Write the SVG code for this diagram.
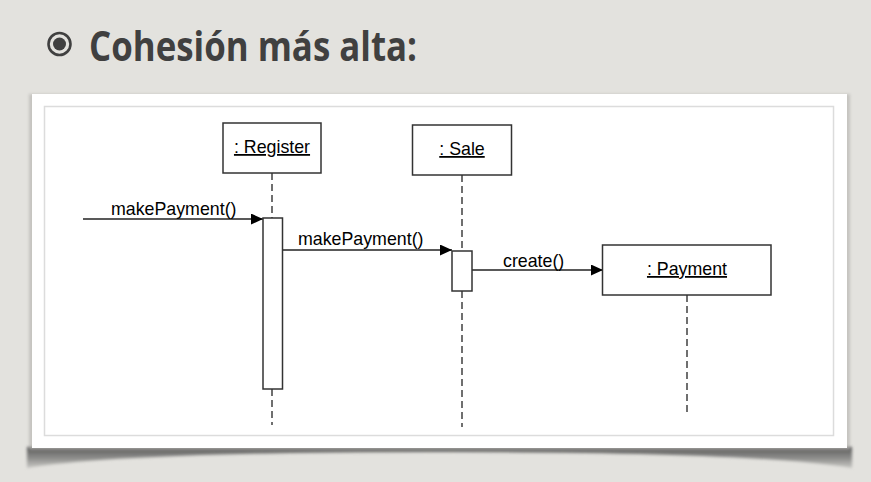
<svg xmlns="http://www.w3.org/2000/svg" width="871" height="482" viewBox="0 0 871 482">
  <defs>
    <style>
      .box { fill: #ffffff; stroke: #333333; stroke-width: 1.5; }
      .life { stroke: #333333; stroke-width: 1.4; stroke-dasharray: 7 4; fill: none; }
      .msg { stroke: #222222; stroke-width: 1.4; fill: none; }
      .lbl { font-family: "Liberation Sans", Arial, sans-serif; font-size: 17.8px; fill: #000000; }
      .name { font-family: "Liberation Sans", Arial, sans-serif; font-size: 17.8px; fill: #000000; text-decoration: underline; text-anchor: middle; }
    </style>
    <marker id="arr" markerWidth="12" markerHeight="11" refX="12" refY="5.5" orient="auto" markerUnits="userSpaceOnUse">
      <path d="M0,0 L12,5.5 L0,11 Z" fill="#000000"/>
    </marker>
    <linearGradient id="shadowGrad" x1="0" y1="0" x2="0" y2="1">
      <stop offset="0" stop-color="#555555" stop-opacity="1"/>
      <stop offset="0.6" stop-color="#8c8c8a" stop-opacity="0.9"/>
      <stop offset="1" stop-color="#b0b0ad" stop-opacity="0.6"/>
    </linearGradient>
    <filter id="blur" x="-5%" y="-50%" width="110%" height="200%">
      <feGaussianBlur stdDeviation="1.8"/>
    </filter>
  </defs>

  <rect x="0" y="0" width="871" height="482" fill="#e3e2de"/>

  <!-- Title -->
  <g id="title">
    <circle cx="59.5" cy="44" r="11" fill="none" stroke="#404040" stroke-width="2.6"/>
    <circle cx="59.5" cy="44" r="6.5" fill="#404040"/>
    <text x="89" y="61" font-family="'Open Sans', 'Liberation Sans', sans-serif" font-weight="bold" font-size="42" fill="#404040" textLength="328" lengthAdjust="spacingAndGlyphs">Cohesión más alta:</text>
  </g>

  <!-- Frame with shadow -->
  <g id="frame">
    <path d="M27,447 L852,447 L852,468 Q760,452 440,452 Q120,452 27,468 Z" fill="url(#shadowGrad)" filter="url(#blur)"/>
    <rect x="29" y="94" width="821" height="356" fill="#b0afab" filter="url(#blur)" opacity="0.6"/>
    <rect x="32" y="94" width="815" height="354" fill="#ffffff"/>
    <rect x="44.5" y="106.5" width="789" height="329" fill="#ffffff" stroke="#dcdcdc" stroke-width="1.5"/>
  </g>

  <!-- Lifelines and connectors -->
  <g id="connectors">
    <line class="life" x1="272" y1="173" x2="272" y2="218"/>
    <line class="life" x1="272" y1="389" x2="272" y2="425"/>
    <line class="life" x1="462" y1="175" x2="462" y2="251"/>
    <line class="life" x1="462" y1="291" x2="462" y2="427"/>
    <line class="life" x1="687" y1="295" x2="687" y2="415"/>
    <line class="msg" x1="83" y1="219" x2="263" y2="219" marker-end="url(#arr)"/>
    <line class="msg" x1="282" y1="250" x2="452" y2="250" marker-end="url(#arr)"/>
    <line class="msg" x1="472" y1="270" x2="603" y2="270" marker-end="url(#arr)"/>
    <text class="lbl" x="111" y="215">makePayment()</text>
    <text class="lbl" x="298" y="245">makePayment()</text>
    <text class="lbl" x="503" y="267">create()</text>
  </g>

  <g id="register">
    <rect class="box" x="223" y="123" width="98" height="50"/>
    <text class="name" x="272" y="153">: Register</text>
  </g>
  <g id="register-activation">
    <rect class="box" x="263" y="218" width="19.5" height="171"/>
  </g>

  <g id="sale">
    <rect class="box" x="412.5" y="125" width="99" height="50"/>
    <text class="name" x="462" y="155">: Sale</text>
  </g>
  <g id="sale-activation">
    <rect class="box" x="452" y="251" width="20" height="40"/>
  </g>

  <g id="payment">
    <rect class="box" x="602.5" y="245" width="168.5" height="50"/>
    <text class="name" x="687" y="275">: Payment</text>
  </g>
</svg>
